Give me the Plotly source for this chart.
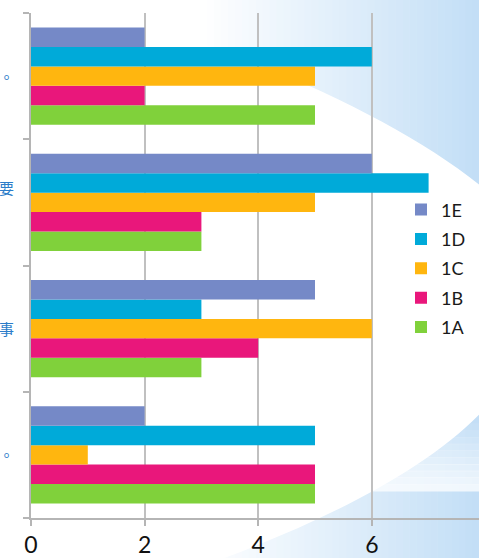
import plotly.graph_objects as go

# Data (categories listed bottom -> top as plotly draws them)
categories = ["。", "事", "要", "。"]
series_names = ["1A", "1B", "1C", "1D", "1E"]
v_1A = [5, 3, 3, 5]
v_1B = [5, 4, 3, 2]
v_1C = [1, 6, 5, 5]
v_1D = [5, 3, 7, 6]
v_1E = [2, 5, 6, 2]
x_ticks = [0, 2, 4, 6]

series_values = [v_1A, v_1B, v_1C, v_1D, v_1E]
colors = ["#80d13b", "#e9177b", "#ffb60f", "#00aad9", "#7589c7"]

W, H = 479, 558
L, R, T, B = 31, 0, 13, 38
PW, PH = W - L - R, H - T - B


def px_x(p):
    return (p - L) / PW


def px_y(p):
    return (H - B - p) / PH


def pt(x, y):
    return "%.5f,%.5f" % (px_x(x), px_y(y))


positions = list(range(len(categories)))

fig = go.Figure()
nser = len(series_names)
for i, (name, vals, col) in enumerate(zip(series_names, series_values, colors)):
    fig.add_trace(go.Bar(
        name=name, y=positions, x=vals, orientation="h",
        marker=dict(color=col, line=dict(width=0)),
        legendgroup=name, legendrank=100 * (nser - i), hoverinfo="x+name",
    ))

# ---- decorative background ----
shapes = []
n = 40
x_start, x_end = 200, 479
c0 = (255, 255, 255)
c1 = (194, 222, 246)
shapes.append(dict(type="rect", xref="paper", yref="paper",
                   x0=px_x(-5), x1=px_x(x_start), y0=px_y(H + 5), y1=px_y(-5),
                   fillcolor="white", line=dict(width=0), layer="below"))
for i in range(n):
    a = x_start + (x_end - x_start) * i / n
    b = x_start + (x_end - x_start) * (i + 1) / n
    t = (i + 0.5) / n
    c = tuple(round(c0[k] + (c1[k] - c0[k]) * t) for k in range(3))
    shapes.append(dict(type="rect", xref="paper", yref="paper",
                       x0=px_x(a), x1=px_x(b + 0.6), y0=px_y(H + 5), y1=px_y(-5),
                       fillcolor="rgb(%d,%d,%d)" % c, line=dict(width=0),
                       layer="below"))
# lighten the lower-right wedge towards the band
m = 10
for i in range(m):
    ya = 425 + (493 - 425) * i / m
    yb = 425 + (493 - 425) * (i + 1) / m
    shapes.append(dict(type="rect", xref="paper", yref="paper",
                       x0=px_x(280), x1=px_x(485), y0=px_y(yb + 0.5), y1=px_y(ya),
                       fillcolor="white", opacity=0.75 * (i + 1) / m,
                       line=dict(width=0), layer="below"))
# white swoosh
path = ("M " + pt(-10, -10) + " L " + pt(60, -10) + " L " + pt(60, 0) +
        " C " + pt(250, 50) + " " + pt(400, 120) + " " + pt(485, 190) +
        " L " + pt(485, 410) +
        " C " + pt(430, 470) + " " + pt(330, 520) + " " + pt(225, 560) +
        " L " + pt(-10, 570) + " Z")
shapes.append(dict(type="path", xref="paper", yref="paper", path=path,
                   fillcolor="white", line=dict(width=0), layer="below"))

label_shift = [0, 0, 15, 0]
annotations = []
for pos, lab, sh in zip(positions, categories, label_shift):
    annotations.append(dict(
        xref="paper", yref="y", x=0, y=pos, xshift=-15, yshift=sh,
        xanchor="right", yanchor="middle", text=lab, showarrow=False,
        font=dict(family="Noto Sans CJK TC", size=15, color="#2b7cc9"),
    ))

fig.update_layout(
    width=W, height=H, autosize=False,
    margin=dict(l=L, r=R, t=T, b=B, pad=0),
    paper_bgcolor="white", plot_bgcolor="rgba(0,0,0,0)",
    barmode="group", bargap=0.23, bargroupgap=0,
    shapes=shapes, annotations=annotations,
    showlegend=True,
    legend=dict(x=px_x(401), y=px_y(192), xanchor="left", yanchor="top",
                traceorder="grouped", bgcolor="rgba(0,0,0,0)",
                font=dict(family="Lato", size=18, color="#1a1a1a"),
                tracegroupgap=3, itemclick=False),
    font=dict(family="Lato"),
)
fig.update_xaxes(
    range=[0, PW / 56.8], tickvals=x_ticks, showgrid=True,
    gridcolor="#c0c0c0", gridwidth=1.5, zeroline=False,
    showline=True, linecolor="#b5b5b5", linewidth=1.5,
    ticks="outside", ticklen=6, tickcolor="#b5b5b5", tickwidth=1.5,
    tickfont=dict(family="Lato", size=23, color="#111111"),
    fixedrange=True,
)
fig.update_yaxes(
    range=[-0.5, len(categories) - 0.5],
    tickvals=[p - 0.5 for p in positions] + [len(categories) - 0.5],
    ticktext=[""] * (len(categories) + 1),
    showgrid=False, zeroline=False, showline=True,
    linecolor="#b5b5b5", linewidth=1.5,
    ticks="outside", ticklen=6, tickcolor="#b5b5b5", tickwidth=1.5,
    fixedrange=True,
)

fig.write_html(
    "out.html",
    config={"displayModeBar": False},
    post_script="document.body.style.margin='0';"
                "document.body.style.overflow='hidden';",
)
